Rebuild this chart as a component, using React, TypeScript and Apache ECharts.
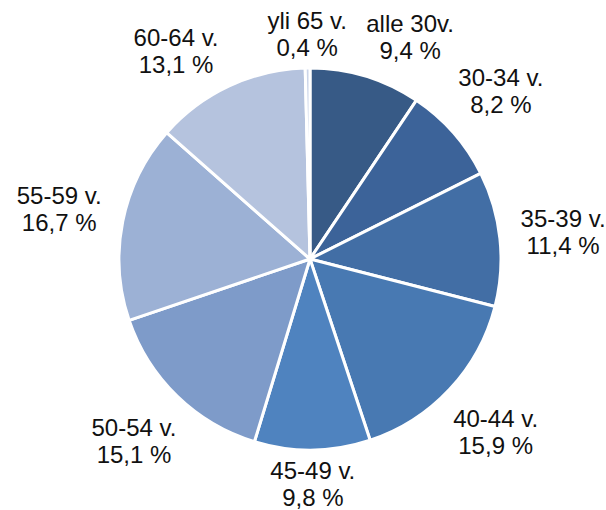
import React, { useEffect, useRef } from "react";
import * as echarts from "echarts";

const categories = [
  "alle 30v.",
  "30-34 v.",
  "35-39 v.",
  "40-44 v.",
  "45-49 v.",
  "50-54 v.",
  "55-59 v.",
  "60-64 v.",
  "yli 65 v.",
];
const values = [9.4, 8.2, 11.4, 15.9, 9.8, 15.1, 16.7, 13.1, 0.4];
const colors = [
  "#375a86",
  "#3c6399",
  "#426ea5",
  "#4879b2",
  "#4f83bf",
  "#7e9bc9",
  "#9cb1d5",
  "#b5c3de",
  "#cbd5e9",
];

const CX = 310;
const CY = 259;
const R = 191;
const SEP_AFTER = 25;
const SEP_BEFORE = 32;

export default function App() {
  const ref = useRef<HTMLDivElement>(null);
  useEffect(() => {
    if (!ref.current) return;
    const chart = echarts.init(ref.current, null, { renderer: "svg" });
    const total = values.reduce((a, b) => a + b, 0);
    const fmt = (v: number) => v.toFixed(1).replace(".", ",");

    // mid-angles (degrees, clockwise from 12 o'clock)
    const mids: number[] = [];
    let cum = 0;
    values.forEach((v) => {
      mids.push(((cum + v / 2) / total) * 360);
      cum += v;
    });
    // spread crowded labels near the top, anchored at the smallest slice
    const angles = mids.slice();
    const n = values.length;
    const isTop = (a: number) => Math.cos((a * Math.PI) / 180) > 0.7;
    let anchor = 0;
    values.forEach((v, i) => {
      if (v < values[anchor]) anchor = i;
    });
    const unwrap = (a: number, r: number) => {
      let d = a - r;
      while (d > 180) d -= 360;
      while (d < -180) d += 360;
      return r + d;
    };
    for (let k = 1; k < n; k++) {
      const i = (anchor + k) % n;
      const p = (anchor + k - 1) % n;
      if (!isTop(angles[i]) || !isTop(angles[p])) break;
      const a = unwrap(angles[i], angles[p]);
      if (a - angles[p] < SEP_AFTER) angles[i] = angles[p] + SEP_AFTER;
    }
    for (let k = 1; k < n; k++) {
      const i = (anchor - k + n * 2) % n;
      const p = (anchor - k + 1 + n * 2) % n;
      if (!isTop(angles[i]) || !isTop(angles[p])) break;
      const a = unwrap(angles[i], angles[p]);
      if (angles[p] - a < SEP_BEFORE) angles[i] = angles[p] - SEP_BEFORE;
    }

    chart.setOption({
      animation: false,
      series: [
        {
          type: "pie",
          center: [CX, CY],
          radius: [0, R],
          startAngle: 90,
          clockwise: true,
          avoidLabelOverlap: false,
          data: categories.map((name, i) => ({
            name,
            value: values[i],
            itemStyle: { color: colors[i] },
          })),
          itemStyle: { borderColor: "#ffffff", borderWidth: 3 },
          label: {
            show: true,
            position: "outside",
            formatter: (p: any) => `${p.name}\n${fmt(p.value)} %`,
            fontFamily: "Liberation Sans, Arial, sans-serif",
            fontSize: 24,
            lineHeight: 27,
            color: "#111111",
            align: "center",
          },
          labelLine: { show: false },
          emphasis: { disabled: true },
          labelLayout: (params: any) => {
            const idx = params.dataIndex;
            const th = (angles[idx] * Math.PI) / 180;
            const s = Math.sin(th);
            const c = Math.cos(th);
            const w = params.labelRect.width / 2;
            const h = params.labelRect.height / 2;
            const dist = R + 11 + (w + 8) * Math.abs(s) + (h - 5) * Math.abs(c);
            return {
              x: CX + dist * s,
              y: CY - dist * c,
              align: "center",
              verticalAlign: "middle",
            };
          },
        },
      ],
    });
    return () => chart.dispose();
  }, []);
  return (
    <div
      ref={ref}
      style={{ position: "absolute", left: 0, top: 0, width: 606, height: 510 }}
    />
  );
}
